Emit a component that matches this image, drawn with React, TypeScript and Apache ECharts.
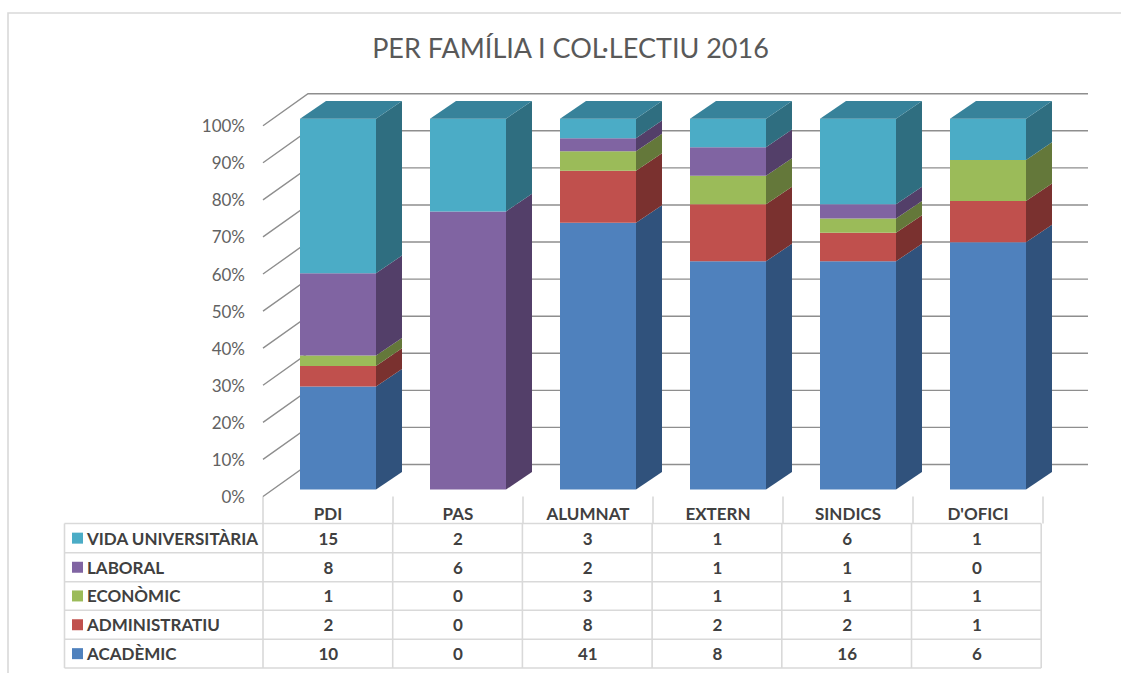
import React, { useEffect, useRef } from "react";
import * as echarts from "echarts";

const categories = ["PDI", "PAS", "ALUMNAT", "EXTERN", "SINDICS", "D'OFICI"];
const seriesNames = ["ACADÈMIC", "ADMINISTRATIU", "ECONÒMIC", "LABORAL", "VIDA UNIVERSITÀRIA"];
const academic = [10, 0, 41, 8, 16, 6];
const administratiu = [2, 0, 8, 2, 2, 1];
const economic = [1, 0, 3, 1, 1, 1];
const laboral = [8, 6, 2, 1, 1, 0];
const vida = [15, 2, 3, 1, 6, 1];
const yTicks = [0, 10, 20, 30, 40, 50, 60, 70, 80, 90, 100];

const layers = [academic, administratiu, economic, laboral, vida];
const frontColors = ["#4F81BD", "#C0504D", "#9BBB59", "#8064A2", "#4BACC6"];
const sideColors = ["#30527C", "#7A312F", "#64783A", "#533F69", "#2F6E80"];
const topColor = "#37829A";
const FONT = "Lato, 'Noto Sans', sans-serif";

const GRID = { left: 263, top: 125.7, width: 780, height: 370.8 };
const BAR_W = 76;
const BAR_OFF = [10, -7];
const DEPTH = [26, -17.6];
const WALL = [45, -32];
const TABLE_X0 = 64.5;
const TABLE_XC = 263;
const COL_W = 129.7;
const ROW_Y = [523.5, 552.8, 581.7, 610.2, 639.3, 668];
const TABLE_LINE = "#D9D9D9";

function stackedRows(layerIdx: number) {
  return categories.map((_, c) => {
    const total = layers.reduce((s, l) => s + l[c], 0);
    let below = 0;
    for (let i = 0; i < layerIdx; i++) below += layers[i][c];
    const v = layers[layerIdx][c];
    return [c, (below / total) * 100, ((below + v) / total) * 100];
  });
}

function renderSegment(layerIdx: number) {
  return (params: any, api: any) => {
    const c = api.value(0), y0 = api.value(1), y1 = api.value(2);
    if (y1 - y0 <= 0) return { type: "group", children: [] };
    const a = api.coord([c, y0]);
    const b = api.coord([c, y1]);
    const xl = a[0] - BAR_W / 2 + BAR_OFF[0];
    const xr = xl + BAR_W;
    const yb = a[1] + BAR_OFF[1];
    const yt = b[1] + BAR_OFF[1];
    const children: any[] = [
      {
        type: "polygon",
        shape: { points: [[xr, yb], [xr + DEPTH[0], yb + DEPTH[1]], [xr + DEPTH[0], yt + DEPTH[1]], [xr, yt]] },
        style: { fill: sideColors[layerIdx] },
      },
      {
        type: "rect",
        shape: { x: xl, y: yt, width: BAR_W, height: yb - yt },
        style: { fill: frontColors[layerIdx] },
      },
    ];
    if (layerIdx === layers.length - 1) {
      children.push({
        type: "polygon",
        shape: { points: [[xl, yt], [xr, yt], [xr + DEPTH[0], yt + DEPTH[1]], [xl + DEPTH[0], yt + DEPTH[1]]] },
        style: { fill: topColor },
      });
    }
    return { type: "group", children };
  };
}

function renderGridLine(params: any, api: any) {
  const p = api.coord([0, api.value(0)]);
  const x0 = GRID.left;
  const y = p[1];
  return {
    type: "polyline",
    shape: { points: [[x0, y], [x0 + WALL[0], y + WALL[1]], [x0 + GRID.width + WALL[0], y + WALL[1]]] },
    style: { fill: "none", stroke: "#8E8E8E", lineWidth: 1.4 },
  };
}

function tableGraphics() {
  const g: any[] = [];
  const line = (x1: number, y1: number, x2: number, y2: number) =>
    g.push({
      type: "line",
      shape: { x1, y1, x2, y2 },
      style: { stroke: TABLE_LINE, lineWidth: 1.6 },
      silent: true,
    });
  const xEnd = TABLE_XC + COL_W * categories.length;
  ROW_Y.forEach((y) => line(TABLE_X0, y, xEnd, y));
  line(TABLE_X0, ROW_Y[0], TABLE_X0, ROW_Y[5]);
  for (let i = 0; i <= categories.length; i++) {
    line(TABLE_XC + i * COL_W, ROW_Y[0], TABLE_XC + i * COL_W, ROW_Y[5]);
  }
  // rows are listed top-down, reversing the stack order
  for (let r = 0; r < layers.length; r++) {
    const layerIdx = layers.length - 1 - r;
    const cy = (ROW_Y[r] + ROW_Y[r + 1]) / 2;
    g.push({
      type: "rect",
      shape: { x: 72, y: cy - 5.5, width: 11, height: 11 },
      style: { fill: frontColors[layerIdx] },
      silent: true,
    });
    g.push({
      type: "text",
      x: 87,
      y: cy,
      style: {
        text: seriesNames[layerIdx],
        font: `bold 17px ${FONT}`,
        fill: "#404040",
        textVerticalAlign: "middle",
        textAlign: "left",
      },
      silent: true,
    });
    categories.forEach((_, c) => {
      g.push({
        type: "text",
        x: TABLE_XC + (c + 0.5) * COL_W + 0.5,
        y: cy,
        style: {
          text: String(layers[layerIdx][c]),
          font: `bold 17px ${FONT}`,
          fill: "#404040",
          textVerticalAlign: "middle",
          textAlign: "center",
        },
        silent: true,
      });
    });
  }
  // outer frame of the chart area
  g.push({
    type: "polyline",
    shape: { points: [[8, 673], [8, 13], [1121, 13]] },
    style: { fill: "none", stroke: "#D9D9D9", lineWidth: 1.6 },
    silent: true,
  });
  // chart title, centred on the plot
  g.push({
    type: "text",
    x: 570.5,
    y: 47,
    style: {
      text: "PER FAMÍLIA I COL·LECTIU 2016",
      font: `normal 27px ${FONT}`,
      fill: "#595959",
      textVerticalAlign: "middle",
      textAlign: "center",
    },
    silent: true,
  });
  return g;
}

export default function App() {
  const ref = useRef<HTMLDivElement>(null);
  useEffect(() => {
    const chart = echarts.init(ref.current!, undefined, { renderer: "svg" });
    chart.setOption({
      animation: false,
      backgroundColor: "#FFFFFF",
      grid: { ...GRID },
      xAxis: {
        type: "category",
        data: categories,
        axisLine: { show: false },
        axisTick: { show: true, length: 27, lineStyle: { color: TABLE_LINE, width: 1.6 } },
        axisLabel: { fontFamily: FONT, fontSize: 17, fontWeight: "bold", color: "#404040", margin: 8 },
      },
      yAxis: {
        type: "value",
        min: 0,
        max: 100,
        interval: 10,
        axisLine: { show: false },
        axisTick: { show: false },
        splitLine: { show: false },
        axisLabel: { formatter: "{value}%", fontFamily: FONT, fontSize: 17, color: "#626262", margin: 18 },
      },
      series: [
        {
          type: "custom",
          name: "grid",
          silent: true,
          clip: false,
          z: 1,
          data: yTicks.map((t) => [t]),
          encode: { y: 0 },
          renderItem: renderGridLine,
        },
        ...layers.map((_, i) => ({
          type: "custom",
          name: seriesNames[i],
          silent: true,
          clip: false,
          z: 2 + i,
          data: stackedRows(i),
          encode: { x: 0, y: [1, 2] },
          renderItem: renderSegment(i),
        })),
      ],
      graphic: { elements: tableGraphics() },
    });
    return () => chart.dispose();
  }, []);
  return (
    <div
      ref={ref}
      style={{ position: "fixed", left: 0, top: 0, width: 1121, height: 673, background: "#fff" }}
    />
  );
}
